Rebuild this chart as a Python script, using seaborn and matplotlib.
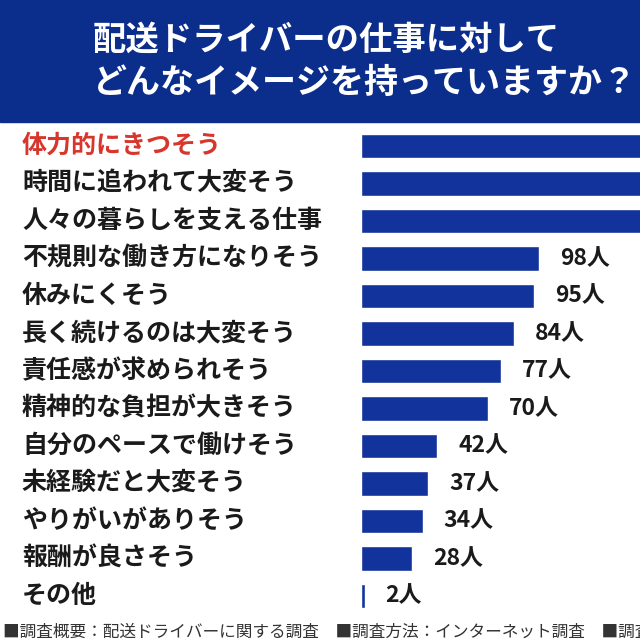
import matplotlib
matplotlib.use("Agg")
import matplotlib.pyplot as plt
import matplotlib.transforms as mtransforms
import pandas as pd
import seaborn as sns

# survey answers (top three bars run off the right edge in the original, values estimated)
labels = [
    "体力的にきつそう",
    "時間に追われて大変そう",
    "人々の暮らしを支える仕事",
    "不規則な働き方になりそう",
    "休みにくそう",
    "長く続けるのは大変そう",
    "責任感が求められそう",
    "精神的な負担が大きそう",
    "自分のペースで働けそう",
    "未経験だと大変そう",
    "やりがいがありそう",
    "報酬が良さそう",
    "その他",
]
counts = [190, 172, 158, 98, 95, 84, 77, 70, 42, 37, 34, 28, 2]
shown = [False, False, False, True, True, True, True, True, True, True, True, True, True]

title_lines = ["配送ドライバーの仕事に対して", "どんなイメージを持っていますか？"]
footer = "■調査概要：配送ドライバーに関する調査　■調査方法：インターネット調査　■調査"

BLUE = "#0b2d8b"
BAR = "#12339b"
RED = "#d7362c"

sns.set_theme(style="white")
plt.rcParams["font.family"] = ["Noto Sans CJK JP", "DejaVu Sans"]

df = pd.DataFrame({"label": labels, "count": counts})

fig = plt.figure(figsize=(6.4, 6.4), dpi=100)
fig.patch.set_facecolor("white")

# header band
fig.patches.append(plt.Rectangle((0, 1 - 122 / 640), 1, 122 / 640, transform=fig.transFigure,
                                 color=BLUE, zorder=0))
fig.text(93 / 640, 1 - 40 / 640, title_lines[0], color="white", fontsize=24,
         fontweight="bold", va="center", ha="left")
fig.text(93 / 640, 1 - 82 / 640, title_lines[1], color="white", fontsize=24.5,
         fontweight="bold", va="center", ha="left")

# bar area
row = 37.5
top = 146 - row / 2
ax = fig.add_axes([361 / 640, 1 - (top + 13 * row) / 640, 1 - 361 / 640, 13 * row / 640])
sns.barplot(data=df, x="count", y="label", orient="h", color=BAR, width=0.66,
            saturation=1, ax=ax)
ax.set_xlim(0, (640 - 361) / 1.82)
ax.set_ylim(12.5, -0.5)
ax.axis("off")

for i, (c, s) in enumerate(zip(counts, shown)):
    if s:
        ax.annotate(f"{c}人", xy=(c, i), xytext=(15, 0), textcoords="offset points",
                    ha="left", va="center", fontsize=16.5, fontweight="bold", color="#1a1a1a",
                    annotation_clip=False)

trans = mtransforms.blended_transform_factory(fig.transFigure, ax.transData)
for i, lab in enumerate(labels):
    ax.text(22 / 640, i, lab, transform=trans, ha="left", va="center", fontsize=18,
            fontweight="bold", color=RED if i == 0 else "#1a1a1a", clip_on=False)

fig.text(3 / 640, 1 - 632 / 640, footer, fontsize=12, color="#333333", va="center", ha="left")

fig.savefig("out.png", dpi=100)
